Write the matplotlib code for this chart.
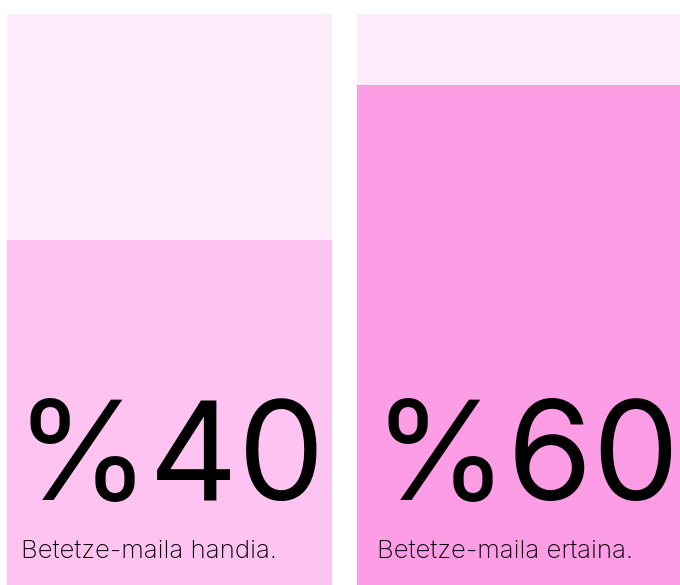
import matplotlib
matplotlib.use("Agg")
import matplotlib.pyplot as plt

values = [40, 60]
value_labels = ["%40", "%60"]
captions = ["Betetze-maila handia.", "Betetze-maila ertaina."]
fill_colors = ["#FEC3F1", "#FD9DE6"]
bg_color = "#FEEBFB"

W, H = 680, 585
fig = plt.figure(figsize=(W / 100, H / 100), dpi=100)
fig.patch.set_facecolor("white")

# panel pixel boxes: (left, right, top, bottom)
boxes = [(7, 332, 14, 585), (357, 682, 14, 585)]
big_x = [15, 372]
cap_x = [21, 377]
big_base = 500
cap_base = 558
ylo, yhi = -4.52, 69.16

for i, (l, r, t, b) in enumerate(boxes):
    ax = fig.add_axes([l / W, 1 - b / H, (r - l) / W, (b - t) / H])
    ax.set_facecolor(bg_color)
    ax.bar([0], [values[i] - ylo], bottom=ylo, width=1.0, color=fill_colors[i], linewidth=0)
    ax.set_xlim(-0.5, 0.5)
    ax.set_ylim(ylo, yhi)
    ax.set_axis_off()
    ax.add_patch(plt.Rectangle((0, 0), 1, 1, transform=ax.transAxes, color=bg_color, zorder=-1))
    ax.text((big_x[i] - l) / (r - l), (b - big_base) / (b - t), value_labels[i],
            transform=ax.transAxes, ha="left", va="baseline",
            fontsize=99, family="Inter", color="black")
    ax.text((cap_x[i] - l) / (r - l), (b - cap_base) / (b - t), captions[i],
            transform=ax.transAxes, ha="left", va="baseline",
            fontsize=18.6, family="Inter", fontweight="light", color="black")

fig.savefig("out.png", dpi=100, facecolor="white")
